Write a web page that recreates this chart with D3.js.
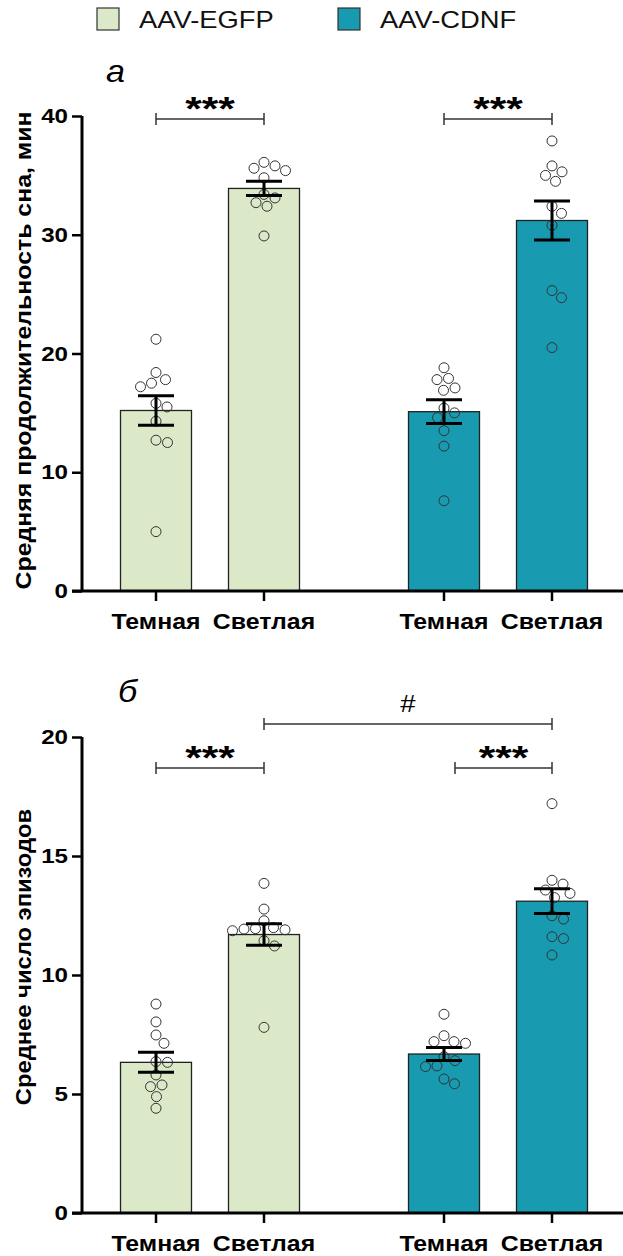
<!DOCTYPE html>
<html><head><meta charset="utf-8">
<script src="https://cdn.jsdelivr.net/npm/d3@7"></script>
<style>body{margin:0;background:#fff}svg{display:block}</style>
</head><body>
<script>
// ---- data ----
const groups = ["AAV-EGFP", "AAV-CDNF"];
const conditions = ["Темная", "Светлая"];
const groupColors = ["#dbe9c8", "#189ab0"];

// panel a: mean sleep duration, min
const durMeans = [15.2, 33.9, 15.1, 31.2];
const durSem = [1.25, 0.6, 1.0, 1.65];
const durPoints = [
  [21.2, 18.4, 17.8, 17.2, 17.5, 15.8, 15.5, 14.3, 12.5, 12.7, 5.0],
  [35.8, 36.1, 35.6, 35.4, 34.8, 33.4, 33.1, 32.7, 32.4, 29.9],
  [18.8, 17.9, 17.8, 17.1, 16.9, 15.4, 15.0, 14.6, 13.5, 12.2, 7.6],
  [37.9, 35.3, 35.8, 35.0, 34.5, 32.4, 31.8, 30.8, 25.3, 24.7, 20.5]
];
const durTicks = [0, 10, 20, 30, 40];

// panel b: mean number of episodes
const epiMeans = [6.33, 11.7, 6.68, 13.1];
const epiSem = [0.42, 0.45, 0.27, 0.52];
const epiPoints = [
  [8.78, 8.03, 7.48, 7.13, 6.36, 6.33, 5.80, 5.31, 5.38, 4.89, 4.40],
  [13.85, 12.77, 12.28, 11.99, 11.86, 11.95, 11.90, 11.93, 11.44, 11.22, 7.80],
  [8.35, 7.45, 7.13, 7.20, 7.20, 6.40, 6.57, 6.15, 6.18, 5.63, 5.43],
  [17.20, 13.98, 13.82, 13.57, 13.43, 13.25, 12.49, 12.35, 11.61, 11.53, 10.84]
];
const epiTicks = [0, 5, 10, 15, 20];

// ---- layout ----
const W = 623, H = 1256;
const FONT = "'Liberation Sans', Arial, sans-serif";
const svg = d3.select("body").append("svg").attr("width", W).attr("height", H);

const xGroup = d3.scaleBand().domain(groups).range([66, 642]);
const xCond = d3.scaleBand().domain(conditions).range([54.5, 233.5]).paddingInner(37 / 108);
const barX = i => xGroup(groups[Math.floor(i / 2)]) + xCond(conditions[i % 2]);
const barCx = i => barX(i) + xCond.bandwidth() / 2;

function txt(parent, x, y, s, size, sx, opts = {}) {
  return parent.append("text")
    .attr("transform", `translate(${x},${y})${opts.rotate ? " rotate(" + opts.rotate + ")" : ""} scale(${sx},1)`)
    .attr("text-anchor", opts.anchor || "start")
    .attr("font-family", FONT).attr("font-size", size)
    .attr("font-weight", opts.weight || "normal").attr("font-style", opts.style || "normal")
    .attr("fill", "#000").text(s);
}

// legend
const legend = svg.append("g");
[[97, 0], [338, 1]].forEach(([lx, gi]) => {
  legend.append("rect").attr("x", lx).attr("y", 8).attr("width", 22).attr("height", 22)
    .attr("fill", groupColors[gi]).attr("stroke", "#333").attr("stroke-width", 1.2);
  txt(legend, lx + 42, 28, groups[gi], 24, 1.14).attr("fill", "#111");
});

function beeswarm(ys, r) {
  const order = ys.map((y, i) => i).sort((a, b) => ys[a] - ys[b]);
  const placed = [];
  const off = new Array(ys.length).fill(0);
  const minD = 2 * r + 1.5;
  order.forEach(i => {
    const y = ys[i];
    let best = 0;
    for (let k = 0; k < 300; k++) {
      const cand = k === 0 ? 0 : (k % 2 ? 1 : -1) * Math.ceil(k / 2) * 0.5;
      const ok = placed.every(p => Math.hypot(p.x - cand, p.y - y) >= minD);
      if (ok) { best = cand; break; }
    }
    off[i] = best;
    placed.push({x: best, y});
  });
  return off;
}

function panel(opts) {
  const {means, sem, points, ticks, yMax, y0, y1, title, letter, letterY, brackets} = opts;
  const y = d3.scaleLinear().domain([0, yMax]).range([y0, y1]);
  const g = svg.append("g");

  // bars
  means.forEach((m, i) => {
    g.append("rect").attr("x", barX(i)).attr("y", y(m)).attr("width", xCond.bandwidth())
      .attr("height", y(0) - y(m)).attr("fill", groupColors[Math.floor(i / 2)])
      .attr("stroke", "#222").attr("stroke-width", 1.3);
  });

  // points
  points.forEach((pts, i) => {
    const ys = pts.map(v => y(v));
    const off = beeswarm(ys, 5);
    g.selectAll(null).data(pts).enter().append("circle")
      .attr("cx", (d, k) => barCx(i) + off[k]).attr("cy", d => y(d)).attr("r", 5)
      .attr("fill", "none").attr("stroke", "#333").attr("stroke-width", 1);
  });

  // error bars
  means.forEach((m, i) => {
    const cx = barCx(i), hw = 18;
    const eg = g.append("g").attr("stroke", "#000").attr("stroke-width", 3);
    eg.append("line").attr("x1", cx).attr("x2", cx).attr("y1", y(m + sem[i])).attr("y2", y(m - sem[i]));
    eg.append("line").attr("x1", cx - hw).attr("x2", cx + hw).attr("y1", y(m + sem[i])).attr("y2", y(m + sem[i]));
    eg.append("line").attr("x1", cx - hw).attr("x2", cx + hw).attr("y1", y(m - sem[i])).attr("y2", y(m - sem[i]));
  });

  // y axis
  const ya = g.append("g").attr("transform", "translate(82,0)")
    .call(d3.axisLeft(y).tickValues(ticks).tickSize(10).tickPadding(3));
  ya.select(".domain").attr("stroke", "#000").attr("stroke-width", 3).attr("d", `M0,${y(yMax)}V${y(0)}`);
  ya.selectAll(".tick line").attr("stroke", "#000").attr("stroke-width", 2.5);
  ya.selectAll(".tick text").attr("font-family", FONT).attr("font-weight", "bold")
    .attr("font-size", 21).attr("fill", "#000")
    .attr("x", -14 / 1.15).attr("transform", "scale(1.15,1)");

  // x axis
  g.append("line").attr("x1", 72).attr("x2", W).attr("y1", y(0)).attr("y2", y(0))
    .attr("stroke", "#000").attr("stroke-width", 3);
  means.forEach((m, i) => {
    g.append("line").attr("x1", barCx(i)).attr("x2", barCx(i)).attr("y1", y(0)).attr("y2", y(0) + 10)
      .attr("stroke", "#000").attr("stroke-width", 2.5);
    txt(g, barCx(i), y(0) + 38, conditions[i % 2], 22, 1.13, {anchor: "middle", weight: "bold"});
  });

  // y title
  txt(g, 31, (y(0) + y(yMax)) / 2 + opts.titleDy, title, 22, opts.titleSx,
      {anchor: "middle", weight: "bold", rotate: -90});

  // panel letter
  txt(g, opts.letterX, letterY, letter, 31, 1.1, {style: "italic"});

  // brackets
  brackets.forEach(b => {
    const bg = g.append("g").attr("stroke", "#333").attr("stroke-width", 1.5);
    const xa = barCx(b.from) + (b.dx || 0), xb = barCx(b.to);
    bg.append("line").attr("x1", xa).attr("x2", xb).attr("y1", b.y).attr("y2", b.y);
    [xa, xb].forEach(xx =>
      bg.append("line").attr("x1", xx).attr("x2", xx).attr("y1", b.y - 6).attr("y2", b.y + 6));
    const mid = (xa + xb) / 2;
    if (b.label === "#") txt(g, mid, b.y - 12, b.label, 24, 1.15, {anchor: "middle"});
    else txt(g, mid, b.y + 1, b.label, 34, 1.25, {anchor: "middle", weight: "bold"});
  });
}

panel({
  means: durMeans, sem: durSem, points: durPoints, ticks: durTicks, yMax: 40,
  y0: 591, y1: 116, title: "Средняя продолжительность сна, мин", titleSx: 1.13, titleDy: -3,
  letter: "a", letterX: 106, letterY: 82,
  brackets: [{from: 0, to: 1, y: 119, label: "***"}, {from: 2, to: 3, y: 119, label: "***"}]
});
panel({
  means: epiMeans, sem: epiSem, points: epiPoints, ticks: epiTicks, yMax: 20,
  y0: 1213, y1: 737, title: "Среднее число эпизодов", titleSx: 1.08, titleDy: -18,
  letter: "б", letterX: 118, letterY: 702,
  brackets: [{from: 1, to: 3, y: 724, label: "#"},
             {from: 0, to: 1, y: 768, label: "***"}, {from: 2, to: 3, dx: 11, y: 768, label: "***"}]
});
</script>
</body></html>
